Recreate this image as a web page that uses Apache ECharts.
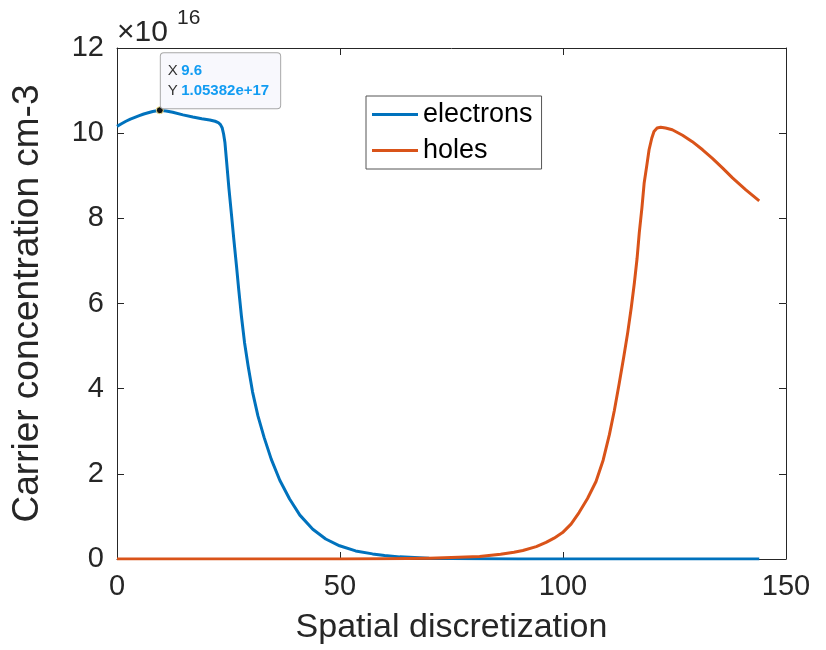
<!DOCTYPE html>
<html>
<head>
    <meta charset="utf-8"/>
    <style>
        html,body { height:100%; width:100%; margin:0; padding:0; background:#fff; }
        #chart { width:826px; height:650px; }
    </style>
</head>
<body>
<div id="chart"></div>
<script src="https://cdn.jsdelivr.net/npm/echarts@6/dist/echarts.min.js"></script>
<script type="text/javascript">

// values in units of 1e16 cm-3
var scale = 1e16;

var electronX = [0, 1, 2, 3, 4, 5, 6, 7, 8, 9.6, 11, 12.5, 14.8, 17, 19, 20.8, 22, 22.7, 23.2, 23.6, 23.9, 24.2, 24.6, 25.1,
    25.7, 26.2, 26.8, 27.3, 27.9, 28.6, 29.4, 30.4, 31.6, 33, 34.6, 36.5, 38.7, 41, 43.9, 46.8, 49.9, 53.5, 57.3, 60, 63.4,
    70, 80, 90, 100, 144];
var electronY = [10.16, 10.22, 10.28, 10.33, 10.37, 10.41, 10.45, 10.48, 10.51, 10.5382, 10.52, 10.49, 10.43, 10.38,
    10.34, 10.31, 10.28, 10.25, 10.20, 10.12, 9.98, 9.78, 9.30, 8.70, 8.05, 7.50, 6.87, 6.32, 5.70, 5.08, 4.53, 3.92,
    3.36, 2.85, 2.34, 1.85, 1.41, 1.03, 0.70, 0.47, 0.31, 0.19, 0.12, 0.08, 0.05, 0.02, 0.005, 0.001, 0, 0];

var holeX = [0, 50, 60, 65, 70, 75, 81.3, 86, 89, 91, 94, 96.2, 98, 99.9, 101.8, 103.6, 105.5, 107.4, 109, 110.4, 111.5,
    112.6, 113.6, 114.5, 115.3, 116, 116.6, 117.1, 117.7, 118.2, 118.8, 119.3, 119.9, 120.4, 121.1, 121.9, 123, 124.5,
    126.8, 129, 131.3, 133.5, 135.8, 138, 141, 144];
var holeY = [0, 0.001, 0.005, 0.01, 0.02, 0.035, 0.06, 0.11, 0.16, 0.2, 0.29, 0.39, 0.49, 0.62, 0.82, 1.09, 1.42, 1.82,
    2.32, 2.92, 3.48, 4.12, 4.73, 5.31, 5.90, 6.48, 7.05, 7.66, 8.25, 8.83, 9.25, 9.61, 9.88, 10.04, 10.12, 10.14, 10.12,
    10.08, 9.95, 9.80, 9.61, 9.41, 9.18, 8.95, 8.67, 8.41];

var seriesNames = ['electrons', 'holes'];
var xTicks = [0, 50, 100, 150];
var yTicks = [0, 2, 4, 6, 8, 10, 12];

// data tip
var tipX = 9.6;
var tipY = 1.05382e17;

var FONT = '"Liberation Sans", Arial, Helvetica, sans-serif';
var INK = '#262626';

function pairs(xs, ys) {
    var out = [];
    for (var i = 0; i < xs.length; i++) out.push([xs[i], ys[i]]);
    return out;
}

var chart = echarts.init(document.getElementById('chart'), null, {renderer: 'canvas'});

var boxAxis = {
    axisLine: {show: true, onZero: false, lineStyle: {color: INK, width: 1}},
    axisTick: {show: true, inside: true, length: 7, lineStyle: {color: INK}},
    axisLabel: {show: false},
    splitLine: {show: false}
};

var option = {
    backgroundColor: '#fff',
    animation: false,
    textStyle: {fontFamily: FONT},
    grid: {left: 117, right: 40, top: 48, bottom: 90, show: false},
    legend: {
        data: seriesNames,
        orient: 'vertical',
        left: 366,
        top: 96,
        padding: [5, 9, 5, 6],
        itemGap: 9,
        itemWidth: 46,
        itemHeight: 3,
        icon: 'rect',
        backgroundColor: '#fff',
        borderColor: '#555',
        borderWidth: 1,
        textStyle: {fontSize: 27, color: '#000', fontFamily: FONT}
    },
    xAxis: [{
        type: 'value',
        min: xTicks[0],
        max: xTicks[xTicks.length - 1],
        interval: 50,
        name: 'Spatial discretization',
        nameLocation: 'middle',
        nameGap: 52,
        nameTextStyle: {fontSize: 34, color: INK, fontFamily: FONT},
        axisLine: {show: true, onZero: false, lineStyle: {color: INK, width: 1}},
        axisTick: {show: true, inside: true, length: 7, lineStyle: {color: INK}},
        axisLabel: {fontSize: 29, color: INK, margin: 13, fontFamily: FONT},
        splitLine: {show: false}
    }, Object.assign({
        type: 'value', position: 'top',
        min: xTicks[0], max: xTicks[xTicks.length - 1], interval: 50
    }, boxAxis)],
    yAxis: [{
        type: 'value',
        min: yTicks[0],
        max: yTicks[yTicks.length - 1],
        interval: 2,
        name: 'Carrier concentration cm-3',
        nameLocation: 'middle',
        nameGap: 71,
        nameTextStyle: {fontSize: 37, color: INK, fontFamily: FONT},
        axisLine: {show: true, onZero: false, lineStyle: {color: INK, width: 1}},
        axisTick: {show: true, inside: true, length: 7, lineStyle: {color: INK}},
        axisLabel: {fontSize: 29, color: INK, margin: 13, fontFamily: FONT},
        splitLine: {show: false}
    }, Object.assign({
        type: 'value', position: 'right',
        min: yTicks[0], max: yTicks[yTicks.length - 1], interval: 2
    }, boxAxis)],
    graphic: [
        {type: 'text', left: 117, top: 18, style: {text: '\u00d710', fontSize: 30, fill: INK, fontFamily: FONT}},
        {type: 'text', left: 177, top: 8, style: {text: '16', fontSize: 21, fill: INK, fontFamily: FONT}}
    ],
    series: [
        {
            name: seriesNames[0],
            type: 'line',
            data: pairs(electronX, electronY),
            showSymbol: false,
            smooth: false,
            lineStyle: {color: '#0072BD', width: 3, join: 'round'},
            itemStyle: {color: '#0072BD'},
            z: 2,
            markPoint: {
                symbol: 'circle',
                symbolSize: 7,
                data: [{
                    coord: [tipX, tipY / scale],
                    itemStyle: {color: '#111', borderColor: '#f5e38a', borderWidth: 1},
                    label: {
                        show: true,
                        position: [5, -53],
                        backgroundColor: '#f8f8fd',
                        borderColor: '#a8a8a8',
                        borderWidth: 1,
                        borderRadius: 3,
                        padding: [8, 11, 7, 7],
                        formatter: '{k|X} {v|' + tipX + '}\n{k|Y} {v|' + tipY.toExponential(5) + '}',
                        rich: {
                            k: {fontSize: 15, color: '#333', fontFamily: FONT, lineHeight: 20},
                            v: {fontSize: 15, color: '#129cf2', fontWeight: 'bold', fontFamily: FONT, lineHeight: 20}
                        }
                    }
                }]
            }
        },
        {
            name: seriesNames[1],
            type: 'line',
            data: pairs(holeX, holeY),
            showSymbol: false,
            smooth: false,
            lineStyle: {color: '#D95319', width: 3, join: 'round'},
            itemStyle: {color: '#D95319'},
            z: 3
        }
    ]
};

chart.setOption(option);

</script>
</body>
</html>
